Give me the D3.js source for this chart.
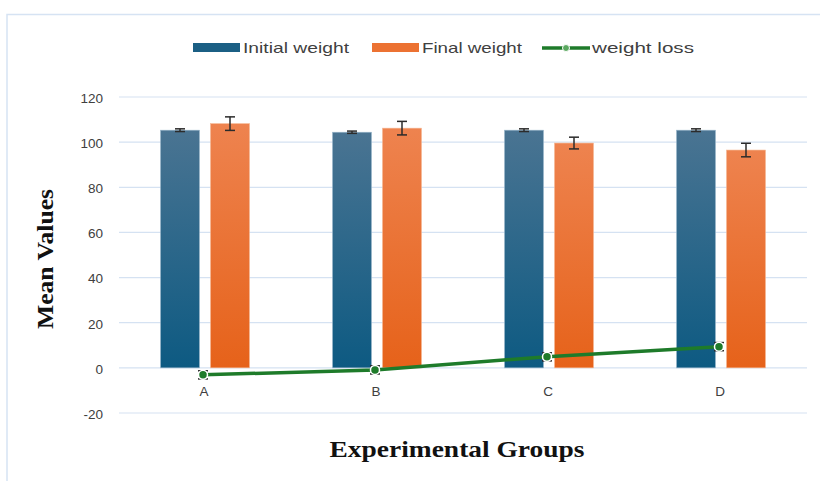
<!DOCTYPE html>
<html><head><meta charset="utf-8">
<script src="https://cdn.jsdelivr.net/npm/d3@7"></script>
<style>body{margin:0;background:#fff;} svg{display:block;}</style>
</head><body>
<svg id="chart" width="820" height="481"></svg>
<script>
const categories = ["A", "B", "C", "D"];
const initialWeight = [105.3, 104.4, 105.3, 105.3];
const initialErr = [0.6, 0.5, 0.6, 0.6];
const finalWeight = [108.2, 106.2, 99.6, 96.5];
const finalErr = [3.0, 3.0, 2.6, 3.0];
const weightLoss = [-3.1, -0.9, 4.9, 9.4];
const lossErr = [1.8, 1.8, 1.8, 1.8];
const yTicks = [-20, 0, 20, 40, 60, 80, 100, 120];
const seriesNames = ["Initial weight", "Final weight", "weight loss"];

const svg = d3.select("#chart");
const defs = svg.append("defs");
const g1 = defs.append("linearGradient").attr("id","gInit").attr("x1",0).attr("y1",0).attr("x2",0).attr("y2",1);
g1.append("stop").attr("offset","0%").attr("stop-color","#4a7492");
g1.append("stop").attr("offset","100%").attr("stop-color","#0d5a82");
const g2 = defs.append("linearGradient").attr("id","gFin").attr("x1",0).attr("y1",0).attr("x2",0).attr("y2",1);
g2.append("stop").attr("offset","0%").attr("stop-color","#ee834f");
g2.append("stop").attr("offset","100%").attr("stop-color","#e6621a");

// frame
svg.append("rect").attr("x",7).attr("y",14.5).attr("width",830).attr("height",500)
  .attr("fill","none").attr("stroke","#d6e3f3").attr("stroke-width",1.5);

const x = d3.scaleBand().domain(categories).range([119, 807]);
const y = d3.scaleLinear().domain([-20, 120]).range([413, 97]);

// grid
svg.append("g").selectAll("line").data(yTicks).join("line")
  .attr("x1",119).attr("x2",807).attr("y1",d=>y(d)).attr("y2",d=>y(d))
  .attr("stroke","#d5e2f2").attr("stroke-width",1.2);

// y axis labels
const yAxis = d3.axisLeft(y).tickValues(yTicks).tickSize(0).tickPadding(0).tickFormat(d => String(d));
const ya = svg.append("g").attr("transform","translate(103,1)").call(yAxis);
ya.select(".domain").remove();
ya.selectAll("text").attr("font-family","Liberation Sans, Arial, sans-serif").attr("font-size",13.5).attr("fill","#404040");

const barW = 39, gap = 11;
const cx = c => x(c) + x.bandwidth()/2;

// bars
svg.append("g").selectAll("rect").data(categories).join("rect")
  .attr("x",c=>cx(c)-gap/2-barW).attr("width",barW)
  .attr("y",(c,i)=>y(initialWeight[i])).attr("height",(c,i)=>y(0)-y(initialWeight[i]))
  .attr("fill","url(#gInit)").attr("stroke","#9bb8cc").attr("stroke-width",0.6);
svg.append("g").selectAll("rect").data(categories).join("rect")
  .attr("x",c=>cx(c)+gap/2).attr("width",barW)
  .attr("y",(c,i)=>y(finalWeight[i])).attr("height",(c,i)=>y(0)-y(finalWeight[i]))
  .attr("fill","url(#gFin)").attr("stroke","#f5b894").attr("stroke-width",0.6);

function errBars(xs, vals, errs){
  const g = svg.append("g").attr("stroke","#2b2b2b").attr("stroke-width",1.5);
  vals.forEach((v,i)=>{
    const xx = xs[i];
    g.append("line").attr("x1",xx).attr("x2",xx).attr("y1",y(v+errs[i])).attr("y2",y(v-errs[i]));
    g.append("line").attr("x1",xx-5).attr("x2",xx+5).attr("y1",y(v+errs[i])).attr("y2",y(v+errs[i]));
    g.append("line").attr("x1",xx-5).attr("x2",xx+5).attr("y1",y(v-errs[i])).attr("y2",y(v-errs[i]));
  });
}
errBars(categories.map(c=>cx(c)-gap/2-barW/2), initialWeight, initialErr);
errBars(categories.map(c=>cx(c)+gap/2+barW/2), finalWeight, finalErr);

// x labels
const xAxis = d3.axisBottom(x).tickSize(0).tickPadding(0);
const xa = svg.append("g").attr("transform","translate(-1,386)").call(xAxis);
xa.select(".domain").remove();
xa.selectAll("text").attr("font-family","Liberation Sans, Arial, sans-serif").attr("font-size",13.5).attr("fill","#404040");

// weight loss line
const line = d3.line().x((d,i)=>cx(categories[i])-2).y(d=>y(d));
svg.append("path").datum(weightLoss).attr("d",line).attr("fill","none")
  .attr("stroke","#1e7b2a").attr("stroke-width",3.5);
errBars(categories.map(c=>cx(c)-2), weightLoss, lossErr);
svg.append("g").selectAll("circle").data(weightLoss).join("circle")
  .attr("cx",(d,i)=>cx(categories[i])-2).attr("cy",d=>y(d)).attr("r",4.5)
  .attr("fill","#1e7b2a").attr("stroke","#ffffff").attr("stroke-width",1.5);

// legend
const lg = svg.append("g").attr("font-family","Liberation Sans, Arial, sans-serif").attr("font-size",14.5).attr("fill","#404040");
const lx = [193, 372, 542];
const lw = [106, 100, 102];
lg.append("rect").attr("x",lx[0]).attr("y",43).attr("width",47).attr("height",9).attr("fill","#1b5f84");
lg.append("rect").attr("x",lx[1]).attr("y",43).attr("width",47).attr("height",9).attr("fill","#ec7232");
lg.append("line").attr("x1",lx[2]).attr("x2",lx[2]+48).attr("y1",48).attr("y2",48).attr("stroke","#1e7b2a").attr("stroke-width",3.5);
lg.append("circle").attr("cx",lx[2]+24).attr("cy",48).attr("r",3.5).attr("fill","#5aa85f").attr("stroke","#fff").attr("stroke-width",1);
seriesNames.forEach((n,i)=>{
  lg.append("text").attr("x",lx[i]+50).attr("y",53).attr("textLength",lw[i]).attr("lengthAdjust","spacingAndGlyphs").text(n);
});

// axis titles
svg.append("text").attr("transform","translate(53,259) rotate(-90)").attr("text-anchor","middle")
  .attr("font-family","Liberation Serif, Times New Roman, serif").attr("font-weight","bold").attr("font-size",23).attr("fill","#111")
  .attr("textLength",140).attr("lengthAdjust","spacingAndGlyphs")
  .text("Mean Values");
svg.append("text").attr("x",457).attr("y",457).attr("text-anchor","middle")
  .attr("font-family","Liberation Serif, Times New Roman, serif").attr("font-weight","bold").attr("font-size",24).attr("fill","#111")
  .attr("textLength",255).attr("lengthAdjust","spacingAndGlyphs")
  .text("Experimental Groups");
</script>
</body></html>
